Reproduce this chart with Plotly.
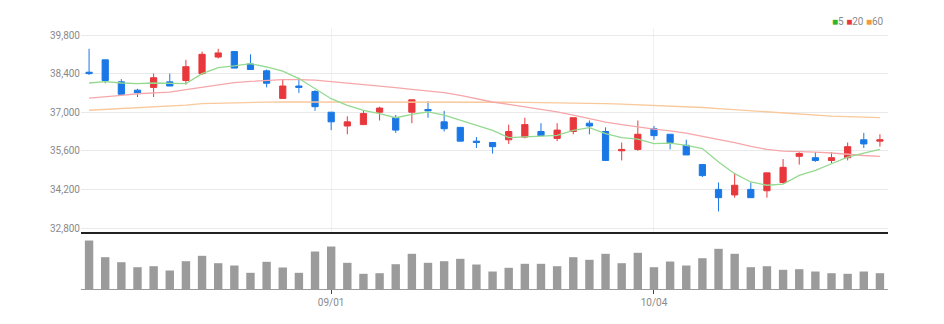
import plotly.graph_objects as go

# Trading days (KRX, 2022)
dates = [
    "2022-08-10", "2022-08-11", "2022-08-12", "2022-08-16", "2022-08-17",
    "2022-08-18", "2022-08-19", "2022-08-22", "2022-08-23", "2022-08-24",
    "2022-08-25", "2022-08-26", "2022-08-29", "2022-08-30", "2022-08-31",
    "2022-09-01", "2022-09-02", "2022-09-05", "2022-09-06", "2022-09-07",
    "2022-09-08", "2022-09-13", "2022-09-14", "2022-09-15", "2022-09-16",
    "2022-09-19", "2022-09-20", "2022-09-21", "2022-09-22", "2022-09-23",
    "2022-09-26", "2022-09-27", "2022-09-28", "2022-09-29", "2022-09-30",
    "2022-10-04", "2022-10-05", "2022-10-06", "2022-10-07", "2022-10-11",
    "2022-10-12", "2022-10-13", "2022-10-14", "2022-10-17", "2022-10-18",
    "2022-10-19", "2022-10-20", "2022-10-21", "2022-10-24", "2022-10-25",
]

open_ = [38450, 38900, 38100, 37800, 37900, 38100, 38150, 38400, 39000, 39200,
         38750, 38500, 37500, 37950, 37750, 37000, 36500, 36550, 37000, 36800,
         37000, 37100, 36650, 36450, 35950, 35900, 36000, 36100, 36300, 36050,
         36300, 36600, 36300, 35600, 35650, 36400, 36200, 35800, 35100, 34200,
         34000, 34200, 34150, 34450, 35400, 35350, 35250, 35350, 36000, 35950]
high = [39300, 38900, 38200, 37850, 38400, 38400, 38900, 39200, 39300, 39200,
        39100, 38550, 38200, 38250, 37800, 37000, 36850, 37050, 37200, 36900,
        37450, 37400, 37050, 36450, 36100, 35900, 36550, 36800, 36600, 36600,
        36800, 36700, 36450, 35900, 36700, 36500, 36200, 36000, 35100, 34450,
        34800, 34450, 34800, 35300, 35550, 35550, 35550, 35900, 36250, 36200]
low = [38350, 38050, 37650, 37550, 37550, 37950, 38000, 38350, 38950, 38600,
       38550, 37900, 37500, 37700, 37050, 36350, 36200, 36550, 36700, 36250,
       36600, 36800, 36300, 35950, 35700, 35500, 35850, 36050, 36150, 35950,
       36200, 36200, 35250, 35250, 35600, 36000, 35650, 35450, 34650, 33400,
       33900, 33900, 33900, 34400, 35100, 35200, 35150, 35250, 35700, 35750]
close = [38400, 38150, 37650, 37700, 38250, 37950, 38650, 39100, 39150, 38600,
         38550, 38050, 37950, 37900, 37200, 36650, 36650, 36950, 37150, 36350,
         37450, 37050, 36400, 35950, 35900, 35750, 36300, 36550, 36150, 36350,
         36800, 36500, 35250, 35650, 36200, 36150, 35900, 35450, 34700, 33900,
         34350, 33900, 34800, 35000, 35500, 35250, 35350, 35750, 35850, 36000]

ma5 = [38060, 38110, 38060, 38040, 38060, 38040, 38040, 38400, 38620, 38680,
       38760, 38640, 38490, 38220, 37860, 37490, 37250, 37070, 36950, 36800,
       36920, 37010, 36890, 36700, 36520, 36340, 36080, 36100, 36120, 36160,
       36340, 36440, 36220, 36080, 36020, 35860, 35880, 35800, 35680, 35190,
       34770, 34470, 34350, 34390, 34710, 34890, 35130, 35370, 35520, 35650]
ma20 = [37510, 37550, 37610, 37670, 37710, 37730, 37820, 37910, 38000, 38070,
        38120, 38160, 38180, 38180, 38160, 38110, 38060, 38000, 37950, 37890,
        37830, 37770, 37710, 37610, 37490, 37370, 37280, 37190, 37100, 37010,
        36890, 36770, 36640, 36550, 36460, 36390, 36320, 36240, 36120, 36010,
        35900, 35760, 35650, 35590, 35580, 35550, 35520, 35470, 35430, 35400]
ma60 = [37070, 37100, 37130, 37150, 37190, 37220, 37260, 37310, 37330, 37350,
        37360, 37365, 37370, 37370, 37370, 37365, 37360, 37360, 37360, 37360,
        37360, 37360, 37360, 37360, 37360, 37380, 37370, 37360, 37350, 37345,
        37340, 37330, 37310, 37290, 37270, 37250, 37210, 37190, 37170, 37130,
        37090, 37040, 37000, 36970, 36920, 36890, 36860, 36840, 36820, 36800]

volume = [970000, 636000, 536000, 436000, 456000, 370000, 556000, 664000, 516000, 470000,
          324000, 544000, 430000, 324000, 750000, 850000, 524000, 304000, 316000, 496000,
          704000, 524000, 556000, 604000, 490000, 350000, 424000, 504000, 504000, 456000,
          636000, 584000, 704000, 516000, 724000, 436000, 550000, 470000, 616000, 804000,
          704000, 436000, 456000, 384000, 396000, 350000, 316000, 304000, 350000, 316000]

price_ticks = [32800, 34200, 35600, 37000, 38400, 39800]
date_ticks = ["2022-09-01", "2022-10-04"]
date_labels = ["09/01", "10/04"]

UP = "#e8383d"
DOWN = "#1a78e6"
FONT = "Liberation Sans Narrow, Arial Narrow, Roboto, sans-serif"

fig = go.Figure()

# moving averages drawn under the candles
fig.add_trace(go.Scatter(x=dates, y=ma60, mode="lines", line=dict(color="#f9c89b", width=1.3),
                         hoverinfo="skip", showlegend=False))
fig.add_trace(go.Scatter(x=dates, y=ma20, mode="lines", line=dict(color="#f5a7aa", width=1.3),
                         hoverinfo="skip", showlegend=False))
fig.add_trace(go.Scatter(x=dates, y=ma5, mode="lines", line=dict(color="#94d98f", width=1.3),
                         hoverinfo="skip", showlegend=False))

fig.add_trace(go.Candlestick(
    x=dates, open=open_, high=high, low=low, close=close,
    increasing=dict(line=dict(color=UP, width=1), fillcolor=UP),
    decreasing=dict(line=dict(color=DOWN, width=1), fillcolor=DOWN),
    whiskerwidth=0, showlegend=False,
))

fig.add_trace(go.Bar(x=dates, y=volume, xaxis="x2", yaxis="y2", width=0.52,
                     marker=dict(color="#9b9b9b", line=dict(width=0)), showlegend=False))

fig.update_layout(
    width=944, height=324,
    margin=dict(l=81, r=56, t=28, b=35),
    paper_bgcolor="white", plot_bgcolor="white",
    font=dict(family=FONT, size=10, color="#8a8a8a"),
    boxgap=0.45,
    xaxis=dict(type="category", domain=[0, 1], anchor="y",
               range=[-0.5, len(dates) - 0.5],
               tickvals=date_ticks, ticktext=date_labels, showticklabels=False,
               showgrid=True, gridcolor="#f0f0f0", gridwidth=1,
               showline=True, linecolor="#222222", linewidth=2,
               ticks="", rangeslider=dict(visible=False), zeroline=False),
    yaxis=dict(domain=[0.2184, 1], range=[32655, 40054],
               tickvals=price_ticks, tickformat=",", showgrid=True,
               gridcolor="#e9e9e9", gridwidth=1, zeroline=False,
               ticks="", ticklen=0, tickfont=dict(size=10, color="#8a8a8a"),
               showline=False),
    xaxis2=dict(type="category", domain=[0, 1], anchor="y2", matches="x",
                tickvals=date_ticks, ticktext=date_labels,
                showgrid=False, showline=True, linecolor="#9b9b9b", linewidth=1,
                ticks="outside", ticklen=4, tickcolor="#444444",
                tickfont=dict(size=10, color="#8a8a8a"), zeroline=False),
    yaxis2=dict(domain=[0, 0.203], range=[0, 1060000], showticklabels=False,
                showgrid=False, zeroline=False, showline=False),
    annotations=[dict(
        xref="paper", yref="paper", x=0.998, y=1.025, xanchor="right", yanchor="middle",
        showarrow=False, font=dict(family=FONT, size=10, color="#8a8a8a"),
        text=("<span style='color:#2fb52c'>■</span>5 "
              "<span style='color:#e8383d'>■</span>20 "
              "<span style='color:#f39a3c'>■</span>60"),
    )],
)

fig.write_html("out.html")
